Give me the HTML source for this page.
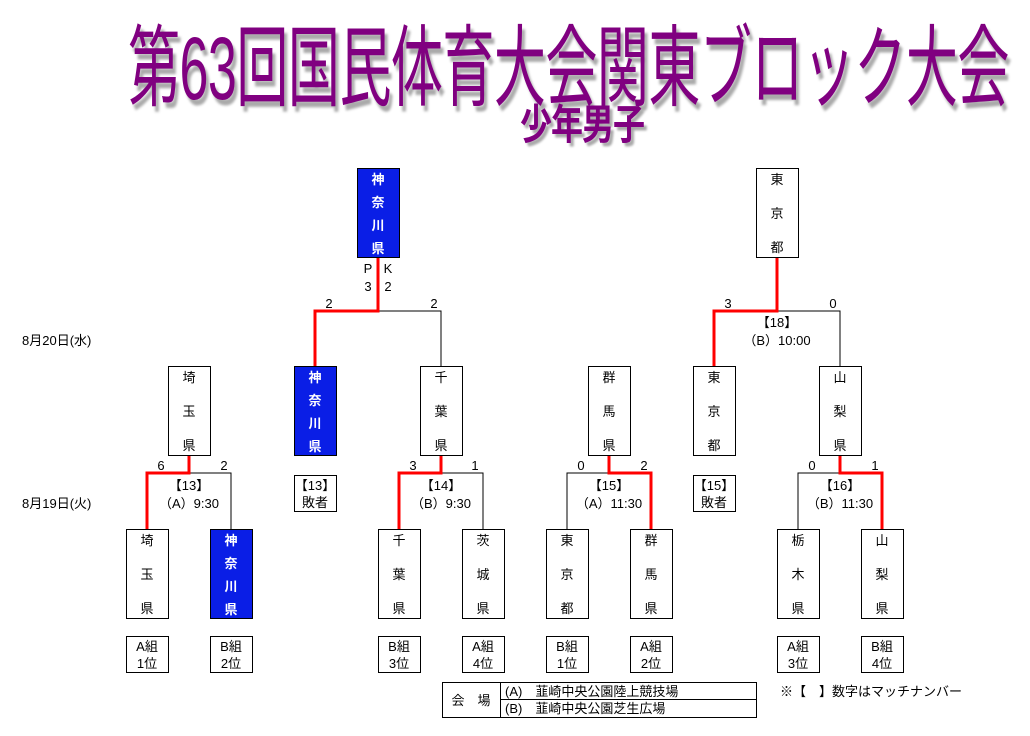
<!DOCTYPE html>
<html><head><meta charset="utf-8"><style>
body{margin:0;background:#fff;width:1030px;height:736px;overflow:hidden;position:relative;font-family:"Liberation Sans","Noto Sans CJK JP",sans-serif}
.t{position:absolute;color:#800080;white-space:nowrap;text-shadow:3px 3px 2px #aaa;transform-origin:0 0}
svg{position:absolute;left:0;top:0}
</style></head><body>
<div class="t" style="left:128px;top:-4px;font-size:52px;letter-spacing:-0.5px;transform:scale(1,1.72)">第63回国民体育大会関東ブロック大会</div>
<div class="t" style="left:520px;top:92px;font-size:32px;font-weight:bold;letter-spacing:-1px;transform:scale(1,1.3)">少年男子</div>
<svg width="1030" height="736" font-family="Liberation Sans, Noto Sans CJK JP, sans-serif" font-size="13">
<g fill="none" stroke="#000" stroke-width="1">
<path d="M378 311H441V366M777 311H840V366M189 473H231V529M441 473H483V529M609 473H567V529M840 473H798V529"/>
</g>
<g fill="none" stroke="#f00" stroke-width="3">
<path d="M378 257V311H315V366M777 257V311H714V366M189 455V473H147V529M441 455V473H399V529M609 455V473H651V529M840 455V473H882V529"/>
</g>
<g stroke="#000" stroke-width="1">
<rect x="357.5" y="168.5" width="42" height="89" fill="#0a1ee6"/>
<rect x="756.5" y="168.5" width="42" height="89" fill="#fff"/>
<rect x="168.5" y="366.5" width="42" height="89" fill="#fff"/>
<rect x="294.5" y="366.5" width="42" height="89" fill="#0a1ee6"/>
<rect x="420.5" y="366.5" width="42" height="89" fill="#fff"/>
<rect x="588.5" y="366.5" width="42" height="89" fill="#fff"/>
<rect x="693.5" y="366.5" width="42" height="89" fill="#fff"/>
<rect x="819.5" y="366.5" width="42" height="89" fill="#fff"/>
<rect x="294.5" y="475.5" width="42" height="36" fill="#fff"/>
<rect x="693.5" y="475.5" width="42" height="36" fill="#fff"/>
<rect x="126.5" y="529.5" width="42" height="89" fill="#fff"/>
<rect x="210.5" y="529.5" width="42" height="89" fill="#0a1ee6"/>
<rect x="378.5" y="529.5" width="42" height="89" fill="#fff"/>
<rect x="462.5" y="529.5" width="42" height="89" fill="#fff"/>
<rect x="546.5" y="529.5" width="42" height="89" fill="#fff"/>
<rect x="630.5" y="529.5" width="42" height="89" fill="#fff"/>
<rect x="777.5" y="529.5" width="42" height="89" fill="#fff"/>
<rect x="861.5" y="529.5" width="42" height="89" fill="#fff"/>
<rect x="126.5" y="636.5" width="42" height="36" fill="#fff"/>
<rect x="210.5" y="636.5" width="42" height="36" fill="#fff"/>
<rect x="378.5" y="636.5" width="42" height="36" fill="#fff"/>
<rect x="462.5" y="636.5" width="42" height="36" fill="#fff"/>
<rect x="546.5" y="636.5" width="42" height="36" fill="#fff"/>
<rect x="630.5" y="636.5" width="42" height="36" fill="#fff"/>
<rect x="777.5" y="636.5" width="42" height="36" fill="#fff"/>
<rect x="861.5" y="636.5" width="42" height="36" fill="#fff"/>
<rect x="442.5" y="682.5" width="314" height="35" fill="#fff"/>
<path d="M500.5 682V718M500 699.5H757"/>
</g>
<g text-anchor="middle">
<g fill="#fff" font-weight="bold">
<text x="378" y="184">神</text><text x="378" y="207">奈</text><text x="378" y="230">川</text><text x="378" y="253">県</text>
<text x="315" y="382">神</text><text x="315" y="405">奈</text><text x="315" y="428">川</text><text x="315" y="451">県</text>
<text x="231" y="545">神</text><text x="231" y="568">奈</text><text x="231" y="591">川</text><text x="231" y="614">県</text>
</g>
<text x="777" y="184">東</text><text x="777" y="218">京</text><text x="777" y="252">都</text>
<text x="189" y="382">埼</text><text x="189" y="416">玉</text><text x="189" y="450">県</text>
<text x="441" y="382">千</text><text x="441" y="416">葉</text><text x="441" y="450">県</text>
<text x="609" y="382">群</text><text x="609" y="416">馬</text><text x="609" y="450">県</text>
<text x="714" y="382">東</text><text x="714" y="416">京</text><text x="714" y="450">都</text>
<text x="840" y="382">山</text><text x="840" y="416">梨</text><text x="840" y="450">県</text>
<text x="147" y="545">埼</text><text x="147" y="579">玉</text><text x="147" y="613">県</text>
<text x="399" y="545">千</text><text x="399" y="579">葉</text><text x="399" y="613">県</text>
<text x="483" y="545">茨</text><text x="483" y="579">城</text><text x="483" y="613">県</text>
<text x="567" y="545">東</text><text x="567" y="579">京</text><text x="567" y="613">都</text>
<text x="651" y="545">群</text><text x="651" y="579">馬</text><text x="651" y="613">県</text>
<text x="798" y="545">栃</text><text x="798" y="579">木</text><text x="798" y="613">県</text>
<text x="882" y="545">山</text><text x="882" y="579">梨</text><text x="882" y="613">県</text>
<text x="315" y="490">【13】</text><text x="315" y="507">敗者</text>
<text x="714" y="490">【15】</text><text x="714" y="507">敗者</text>
<text x="147" y="651">A組</text><text x="147" y="668">1位</text>
<text x="231" y="651">B組</text><text x="231" y="668">2位</text>
<text x="399" y="651">B組</text><text x="399" y="668">3位</text>
<text x="483" y="651">A組</text><text x="483" y="668">4位</text>
<text x="567" y="651">B組</text><text x="567" y="668">1位</text>
<text x="651" y="651">A組</text><text x="651" y="668">2位</text>
<text x="798" y="651">A組</text><text x="798" y="668">3位</text>
<text x="882" y="651">B組</text><text x="882" y="668">4位</text>
<text x="189" y="490">【13】</text><text x="189" y="508">（A）9:30</text>
<text x="441" y="490">【14】</text><text x="441" y="508">（B）9:30</text>
<text x="609" y="490">【15】</text><text x="609" y="508">（A）11:30</text>
<text x="840" y="490">【16】</text><text x="840" y="508">（B）11:30</text>
<text x="777" y="327">【18】</text><text x="777" y="345">（B）10:00</text>
<text x="368" y="273">P</text><text x="388" y="273">K</text>
<text x="368" y="291">3</text><text x="388" y="291">2</text>
<text x="329" y="308">2</text><text x="434" y="308">2</text>
<text x="728" y="308">3</text><text x="833" y="308">0</text>
<text x="161" y="470">6</text><text x="224" y="470">2</text>
<text x="413" y="470">3</text><text x="475" y="470">1</text>
<text x="581" y="470">0</text><text x="644" y="470">2</text>
<text x="812" y="470">0</text><text x="875" y="470">1</text>
<text x="471" y="705">会　場</text>
</g>
<text x="22" y="345">8月20日(水)</text>
<text x="22" y="508">8月19日(火)</text>
<text x="505" y="696">(A)　韮崎中央公園陸上競技場</text>
<text x="505" y="713">(B)　韮崎中央公園芝生広場</text>
<text x="780" y="696">※【　】数字はマッチナンバー</text>
</svg>
</body></html>
